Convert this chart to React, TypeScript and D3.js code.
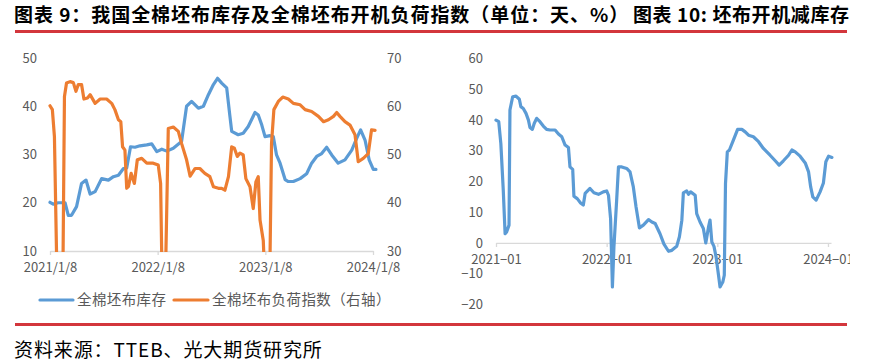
import React, { useEffect, useRef } from "react";
import { select, scaleTime, scaleLinear, line, axisBottom, axisLeft, axisRight, timeParse } from "d3";

const parse = timeParse("%Y-%m-%d");

// 全棉坯布库存（天）
const stockDates = [
  "2021-01-08", "2021-01-19", "2021-02-05", "2021-02-28", "2021-03-11", "2021-03-22", "2021-04-08",
  "2021-04-25", "2021-05-10", "2021-05-24", "2021-06-10", "2021-07-02", "2021-07-25", "2021-08-11",
  "2021-08-28", "2021-09-14", "2021-09-25", "2021-10-08", "2021-10-23", "2021-11-09", "2021-12-02",
  "2021-12-19", "2022-01-05", "2022-01-22", "2022-02-08", "2022-03-02", "2022-03-30", "2022-04-16",
  "2022-05-03", "2022-05-26", "2022-06-12", "2022-06-29", "2022-07-16", "2022-07-30", "2022-08-13",
  "2022-08-30", "2022-09-10", "2022-09-16", "2022-10-08", "2022-10-25", "2022-11-11", "2022-12-04",
  "2022-12-15", "2022-12-27", "2023-01-07", "2023-01-24", "2023-02-04", "2023-02-15", "2023-02-27",
  "2023-03-16", "2023-03-27", "2023-04-13", "2023-05-06", "2023-05-28", "2023-06-14", "2023-07-01",
  "2023-07-18", "2023-08-04", "2023-08-21", "2023-09-12", "2023-10-05", "2023-10-28", "2023-11-14",
  "2023-11-27", "2023-12-12", "2023-12-26", "2024-01-09", "2024-01-18",
];
const stockDays = [
  20.1, 19.7, 20.0, 20.0, 17.4, 17.4, 19.2,
  24.0, 24.7, 21.8, 22.3, 25.0, 24.7, 25.4,
  25.7, 27.1, 27.2, 31.6, 31.5, 31.8, 32.0,
  32.2, 30.6, 31.1, 30.7, 31.3, 32.7, 40.0,
  41.0, 39.6, 40.0, 42.4, 44.5, 45.8, 44.8,
  43.8, 37.9, 34.8, 34.1, 34.4, 35.8, 38.7,
  38.2, 36.1, 33.7, 33.9, 33.7, 29.9, 28.2,
  24.8, 24.4, 24.4, 25.0, 26.0, 28.2, 29.6,
  30.2, 31.5, 29.9, 28.2, 28.9, 30.9, 33.4,
  35.1, 33.0, 28.9, 26.9, 26.9,
];

// 全棉坯布负荷指数（%，右轴）
const loadDates = [
  "2021-01-08", "2021-01-16", "2021-01-23", "2021-02-02", "2021-02-11", "2021-02-20", "2021-02-26",
  "2021-03-05", "2021-03-17", "2021-03-28", "2021-04-06", "2021-04-14", "2021-04-25", "2021-05-03",
  "2021-05-15", "2021-05-24", "2021-06-10", "2021-06-27", "2021-07-19", "2021-08-05", "2021-08-16",
  "2021-08-28", "2021-09-05", "2021-09-11", "2021-09-19", "2021-09-25", "2021-10-01", "2021-10-10",
  "2021-10-21", "2021-10-31", "2021-11-15", "2021-12-02", "2021-12-24", "2022-01-10", "2022-01-18",
  "2022-01-24", "2022-02-02", "2022-02-13", "2022-03-02", "2022-03-19", "2022-03-30", "2022-04-16",
  "2022-04-28", "2022-05-15", "2022-05-31", "2022-06-17", "2022-07-04", "2022-07-16", "2022-08-02",
  "2022-08-13", "2022-08-24", "2022-09-05", "2022-09-16", "2022-09-25", "2022-10-05", "2022-10-14",
  "2022-10-25", "2022-11-03", "2022-11-17", "2022-11-28", "2022-12-07", "2022-12-15", "2022-12-21",
  "2023-01-01", "2023-01-09", "2023-01-22", "2023-01-29", "2023-02-06", "2023-02-21", "2023-03-08",
  "2023-03-27", "2023-04-13", "2023-05-06", "2023-05-23", "2023-06-14", "2023-07-07", "2023-07-24",
  "2023-08-10", "2023-08-27", "2023-09-07", "2023-09-18", "2023-10-05", "2023-10-22", "2023-11-08",
  "2023-11-19", "2023-12-06", "2023-12-23", "2024-01-03", "2024-01-15",
];
const loadIndex = [
  60.1, 59.3, 53.7, 20.0, 15.0, 20.0, 62.0,
  64.8, 65.1, 64.9, 63.1, 64.5, 64.5, 61.5,
  61.7, 62.4, 60.6, 61.5, 61.5, 60.6, 59.3,
  57.2, 56.8, 51.6, 50.9, 43.0, 43.4, 46.1,
  44.0, 48.9, 49.2, 48.2, 48.2, 47.8, 44.0,
  20.0, 20.0, 55.4, 55.7, 54.8, 52.3, 48.9,
  45.5, 47.1, 47.1, 46.1, 45.4, 43.3, 43.0,
  43.0, 42.6, 45.4, 51.6, 51.3, 49.6, 50.3,
  49.9, 45.0, 43.3, 38.8, 44.3, 45.4, 36.4,
  32.2, 20.0, 20.0, 52.3, 59.3, 61.0, 61.9,
  61.5, 60.6, 60.3, 59.3, 58.9, 57.9, 56.8,
  57.2, 57.9, 58.7, 57.9, 56.8, 56.1, 54.1,
  48.5, 49.2, 50.2, 55.1, 55.0,
];

// 坯布开机减库存
const cutDates = [
  "2021-01-01", "2021-01-10", "2021-01-17", "2021-01-25", "2021-01-31", "2021-02-05", "2021-02-13",
  "2021-02-16", "2021-02-25", "2021-03-08", "2021-03-19", "2021-03-24", "2021-04-01", "2021-04-10",
  "2021-04-18", "2021-04-23", "2021-05-01", "2021-05-07", "2021-05-15", "2021-05-26", "2021-06-06",
  "2021-06-17", "2021-06-28", "2021-07-15", "2021-07-26", "2021-08-06", "2021-08-17", "2021-08-28",
  "2021-09-02", "2021-09-11", "2021-09-15", "2021-09-26", "2021-10-07", "2021-10-16", "2021-10-22",
  "2021-11-07", "2021-11-20", "2021-12-05", "2021-12-21", "2022-01-01", "2022-01-07", "2022-01-14",
  "2022-01-20", "2022-01-25", "2022-02-03", "2022-02-09", "2022-02-20", "2022-03-08", "2022-03-19",
  "2022-03-30", "2022-04-08", "2022-04-19", "2022-05-02", "2022-05-19", "2022-05-30", "2022-06-10",
  "2022-06-26", "2022-07-09", "2022-07-24", "2022-08-04", "2022-08-20", "2022-08-29", "2022-09-06",
  "2022-09-11", "2022-09-22", "2022-09-28", "2022-10-05", "2022-10-20", "2022-10-25", "2022-11-05",
  "2022-11-16", "2022-11-24", "2022-12-03", "2022-12-08", "2022-12-14", "2022-12-21", "2022-12-28",
  "2023-01-05", "2023-01-10", "2023-01-19", "2023-01-24", "2023-01-28", "2023-02-03", "2023-02-10",
  "2023-02-23", "2023-03-09", "2023-03-23", "2023-04-03", "2023-04-14", "2023-04-30", "2023-05-17",
  "2023-06-02", "2023-06-24", "2023-07-11", "2023-07-24", "2023-08-07", "2023-08-24", "2023-09-04",
  "2023-09-15", "2023-10-01", "2023-10-18", "2023-10-29", "2023-11-05", "2023-11-12", "2023-11-23",
  "2023-12-06", "2023-12-17", "2023-12-25", "2024-01-03", "2024-01-14",
];
const cutValues = [
  39.9, 39.4, 32.3, 17.1, 3.0, 3.6, 5.8,
  43.2, 47.5, 47.7, 46.7, 44.3, 43.7, 42.1,
  39.9, 37.5, 36.9, 38.8, 40.5, 39.4, 38.0,
  36.9, 36.7, 36.7, 35.4, 34.5, 31.8, 31.0,
  24.7, 23.9, 15.2, 14.4, 13.0, 12.3, 16.1,
  17.7, 16.3, 15.8, 16.6, 16.9, 15.5, 7.9,
  -14.3, -1.3, 13.9, 24.7, 24.7, 24.2, 23.1,
  18.2, 11.7, 4.9, 5.8, 7.6, 6.8, 6.3,
  3.0, -0.4, -2.7, -2.4, -1.1, 2.0, 7.4,
  16.3, 16.9, 15.8, 16.6, 15.5, 9.5, 6.8,
  4.7, 0.0, 5.2, 7.4, 0.3, -1.1, -4.6,
  -10.5, -14.3, -12.7, -10.5, 19.3, 29.6, 30.2,
  33.4, 36.9, 36.9, 36.1, 35.0, 34.5, 32.9,
  30.7, 28.5, 26.7, 25.3, 26.7, 28.5, 30.2,
  29.6, 28.2, 26.0, 23.1, 18.2, 15.0, 13.9,
  16.6, 19.5, 26.4, 28.2, 27.8,
];

const leftTickDates = ["2021-01-08", "2022-01-08", "2023-01-08", "2024-01-08"];
const leftTickLabels = ["2021/1/8", "2022/1/8", "2023/1/8", "2024/1/8"];
const cutTickDates = ["2021-01-01", "2022-01-01", "2023-01-01", "2024-01-01"];
const cutTickLabels = ["2021\u221201", "2022\u221201", "2023\u221201", "2024\u221201"];
const stockTicks = [10, 20, 30, 40, 50];
const loadTicks = [30, 40, 50, 60, 70];
const cutTicks = [-20, -10, 0, 10, 20, 30, 40, 50, 60];

const blue = "#5B9BD5";
const orange = "#ED7D31";
const red = "#D3363C";
const gridGrey = "#D9D9D9";
const labelGrey = "#595959";
const font = "'Noto Sans CJK SC', 'Noto Sans', sans-serif";

export default function App() {
  const svgRef = useRef<SVGSVGElement>(null);

  useEffect(() => {
    const svg = select(svgRef.current);
    svg.selectAll("*").remove();

    // titles and red rules
    svg.append("text").attr("x", 14).attr("y", 22)
      .attr("font-size", 19).attr("font-weight", "bold").attr("fill", "#000")
      .attr("letter-spacing", 0.95)
      .text("图表 9：我国全棉坯布库存及全棉坯布开机负荷指数（单位：天、%）");
    svg.append("text").attr("x", 633).attr("y", 22)
      .attr("font-size", 19).attr("font-weight", "bold").attr("fill", "#000")
      .attr("letter-spacing", 0.6)
      .text("图表 10: 坯布开机减库存");
    svg.append("rect").attr("x", 15).attr("y", 30).attr("width", 832).attr("height", 3).attr("fill", red);
    svg.append("rect").attr("x", 15).attr("y", 323).attr("width", 832).attr("height", 3).attr("fill", red);

    svg.append("text").attr("x", 14).attr("y", 357)
      .attr("font-size", 19).attr("fill", "#000").attr("letter-spacing", 0.9)
      .text("资料来源：TTEB、光大期货研究所");

    const defs = svg.append("defs");
    defs.append("clipPath").attr("id", "clip-left")
      .append("rect").attr("x", 40).attr("y", 40).attr("width", 350).attr("height", 212);
    defs.append("clipPath").attr("id", "clip-xlab")
      .append("rect").attr("x", 440).attr("y", 240).attr("width", 410).attr("height", 40);

    // ---------- left chart ----------
    const xL = scaleTime().domain([parse("2021-01-08")!, parse("2024-01-08")!]).range([50, 373]);
    const yL = scaleLinear().domain([10, 50]).range([251, 58]);
    const yR = scaleLinear().domain([30, 70]).range([251, 58]);

    const styleAxis = (g: any) => {
      g.select(".domain").attr("stroke", gridGrey).attr("stroke-width", 1.3);
      g.selectAll(".tick line").attr("stroke", gridGrey).attr("stroke-width", 1.3);
      g.selectAll("text").attr("fill", labelGrey).attr("font-size", 13).attr("font-family", font);
    };

    const xAxisL = axisBottom(xL)
      .tickValues(leftTickDates.map((d) => parse(d)!))
      .tickFormat((d, i) => leftTickLabels[i])
      .tickSize(4).tickSizeOuter(0).tickPadding(8);
    svg.append("g").attr("transform", "translate(0,251)").call(xAxisL).call(styleAxis);

    const yAxisL = axisLeft(yL).tickValues(stockTicks).tickSize(0).tickPadding(3);
    svg.append("g").attr("transform", "translate(40,0)").call(yAxisL).call(styleAxis)
      .call((g: any) => g.select(".domain").remove());

    const yAxisR = axisRight(yR).tickValues(loadTicks).tickSize(0).tickPadding(3);
    svg.append("g").attr("transform", "translate(384,0)").call(yAxisR).call(styleAxis)
      .call((g: any) => g.select(".domain").remove());

    const stockLine = line<number>()
      .x((d, i) => xL(parse(stockDates[i])!))
      .y((d) => yL(d));
    const loadLine = line<number>()
      .x((d, i) => xL(parse(loadDates[i])!))
      .y((d) => yR(d));

    svg.append("path").datum(stockDays)
      .attr("d", stockLine).attr("fill", "none").attr("stroke", blue)
      .attr("stroke-width", 3.2).attr("stroke-linejoin", "round").attr("stroke-linecap", "round")
      .attr("clip-path", "url(#clip-left)");
    svg.append("path").datum(loadIndex)
      .attr("d", loadLine).attr("fill", "none").attr("stroke", orange)
      .attr("stroke-width", 3.2).attr("stroke-linejoin", "round").attr("stroke-linecap", "round")
      .attr("clip-path", "url(#clip-left)");

    // legend
    const legend = svg.append("g").attr("font-family", font).attr("font-size", 14.5)
      .attr("fill", labelGrey).attr("letter-spacing", 0.4);
    legend.append("line").attr("x1", 40).attr("x2", 73).attr("y1", 300).attr("y2", 300)
      .attr("stroke", blue).attr("stroke-width", 3.2).attr("stroke-linecap", "round");
    legend.append("text").attr("x", 77).attr("y", 305).text("全棉坯布库存");
    legend.append("line").attr("x1", 174).attr("x2", 208).attr("y1", 300).attr("y2", 300)
      .attr("stroke", orange).attr("stroke-width", 3.2).attr("stroke-linecap", "round");
    legend.append("text").attr("x", 212).attr("y", 305).text("全棉坯布负荷指数（右轴）");

    // ---------- right chart ----------
    const xC = scaleTime().domain([parse("2021-01-01")!, parse("2024-01-11")!]).range([496, 831]);
    const yC = scaleLinear().domain([-20, 60]).range([304.5, 58.3]);

    const xAxisC = axisBottom(xC)
      .tickValues(cutTickDates.map((d) => parse(d)!))
      .tickFormat((d, i) => cutTickLabels[i])
      .tickSize(4).tickSizeOuter(0).tickPadding(8);
    const gx = svg.append("g").attr("transform", `translate(0,${yC(0)})`).call(xAxisC).call(styleAxis);
    svg.append("g").attr("clip-path", "url(#clip-xlab)").node()!.appendChild(gx.node()!);

    const yAxisC = axisLeft(yC).tickValues(cutTicks)
      .tickFormat((d: any) => (d < 0 ? "\u2212" + Math.abs(d) : String(d)))
      .tickSize(0).tickPadding(3);
    svg.append("g").attr("transform", "translate(486,0)").call(yAxisC).call(styleAxis)
      .call((g: any) => g.select(".domain").remove());

    const cutLine = line<number>()
      .x((d, i) => xC(parse(cutDates[i])!))
      .y((d) => yC(d));
    svg.append("path").datum(cutValues)
      .attr("d", cutLine).attr("fill", "none").attr("stroke", blue)
      .attr("stroke-width", 3.2).attr("stroke-linejoin", "round").attr("stroke-linecap", "round");
  }, []);

  return (
    <svg ref={svgRef} width={873} height={364}
      style={{ position: "absolute", left: 0, top: 0, background: "#fff", fontFamily: font }} />
  );
}
